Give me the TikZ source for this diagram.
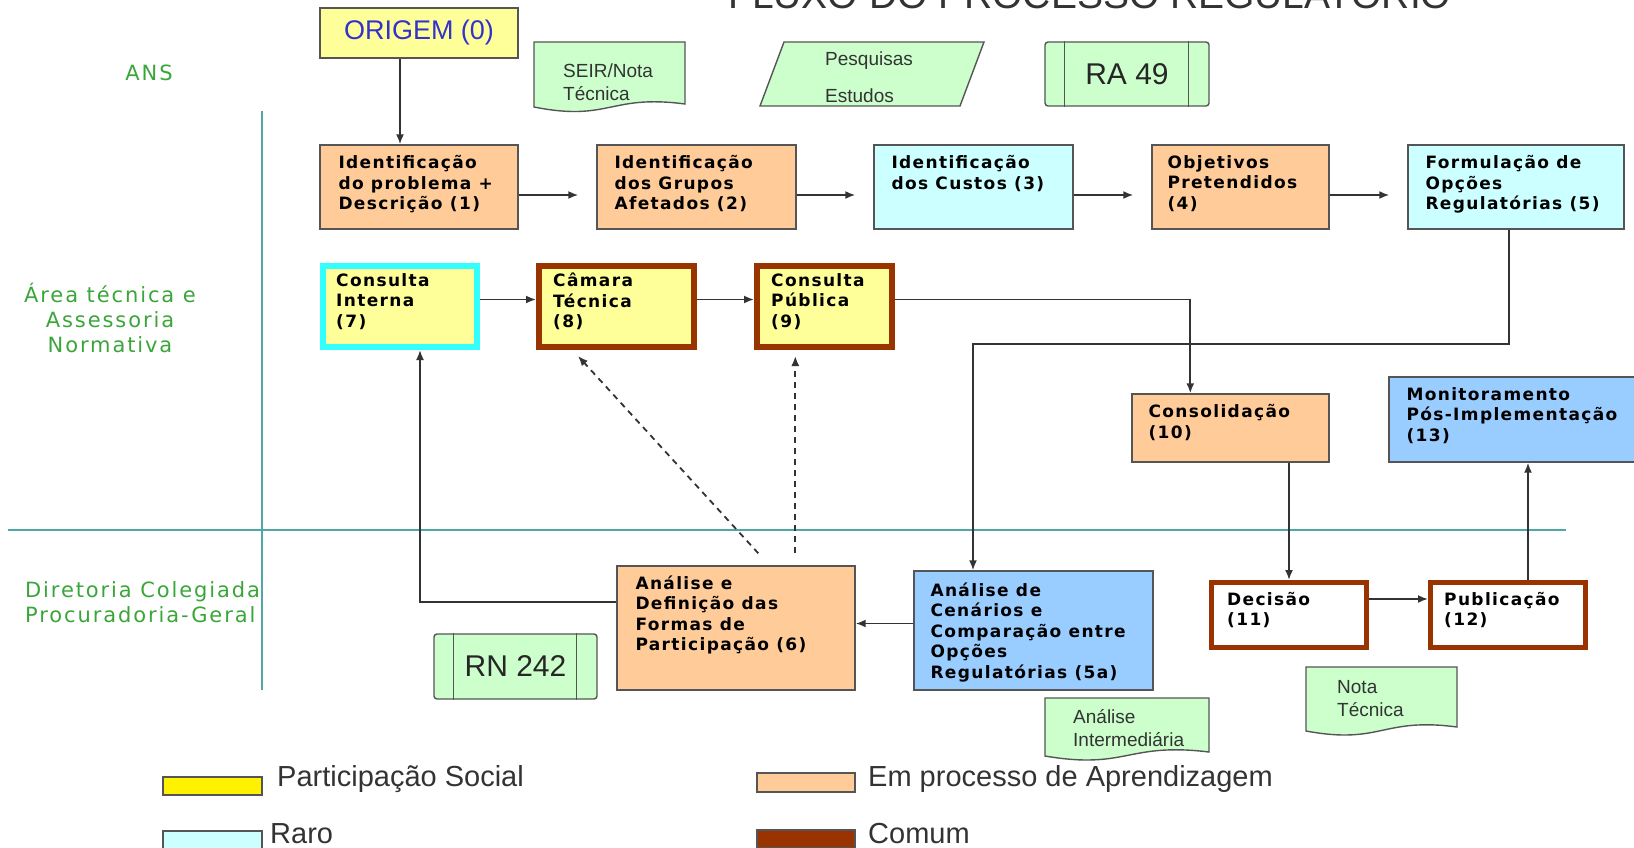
\documentclass[tikz,border=0pt]{standalone}
\usepackage{fontspec}
\setmainfont{Liberation Sans}
\newfontfamily\boxfont{DejaVu Sans}[LetterSpace=8]
\newfontfamily\lblfont{DejaVu Sans}[LetterSpace=9]
\usetikzlibrary{arrows.meta,calc}
\definecolor{orng}{HTML}{FFCC99}
\definecolor{lcyan}{HTML}{CCFFFF}
\definecolor{lblue}{HTML}{99CCFF}
\definecolor{lyel}{HTML}{FFFF99}
\definecolor{brownb}{HTML}{993300}
\definecolor{cyanb}{HTML}{33FFFF}
\definecolor{docgreen}{HTML}{CCFFCC}
\definecolor{tealline}{HTML}{4FA8A8}
\definecolor{lblgreen}{HTML}{3AA63A}
\definecolor{origblue}{HTML}{3333CC}
\definecolor{txtgray}{HTML}{333333}
\definecolor{bordergray}{HTML}{555555}
\begin{document}
\begin{tikzpicture}[x=1pt,y=-1pt,
  box/.style={draw=bordergray, line width=1.4pt, inner sep=0pt},
  thickbrown/.style={draw=brownb, line width=6pt, inner sep=0pt},
  btxt/.style={anchor=north west, inner sep=0pt, align=left, font=\boxfont\bfseries\fontsize{17}{20.5}\selectfont},
  conn/.style={draw=black!80, line width=1.8pt},
  arr/.style={conn, -{Latex[length=10pt,width=8pt]}},
  darr/.style={arr, dash pattern=on 6pt off 5pt},
  doc/.style={draw=bordergray, line width=1.4pt, fill=docgreen},
  doctxt/.style={anchor=west, inner sep=0pt, align=left, text=txtgray, font=\fontsize{19}{23}\selectfont},
  sepline/.style={draw=tealline, line width=2.5pt},
  lbl/.style={text=lblgreen, inner sep=0pt, font=\lblfont\fontsize{21}{25}\selectfont},
  legtxt/.style={anchor=west, inner sep=0pt, text=txtgray, font=\fontsize{29}{29}\selectfont},
  legbox/.style={draw=bordergray, line width=1.2pt, minimum width=99pt, minimum height=18pt, inner sep=0pt},
]
\useasboundingbox (0,0) rectangle (1634,848);

% title (cut off at the top, as in the reference)
\node[anchor=base west, inner sep=0pt, text=txtgray, font=\fontsize{39}{39}\selectfont] (title) at (728,9) {FLUXO DO PROCESSO REGULATÓRIO};

% separator lines
\draw[sepline] (262,111) -- (262,690);
\draw[sepline] (8,530) -- (1566,530);

% lane labels
\node[lbl] (ans) at (149,73) {ANS};
\node[lbl, align=center] (area) at (110,318) {Área técnica e\\Assessoria\\Normativa};
\node[lbl, align=left, anchor=west] (dir) at (25,602.5) {Diretoria Colegiada\\Procuradoria-Geral};

% top row of artefacts
\node[box, fill=lyel, minimum width=198pt, minimum height=50pt, text=origblue, font=\fontsize{27}{27}\selectfont] (orig) at (419,33) {ORIGEM (0)};
\draw[doc] (534,42) -- (685,42) -- (685,104) .. controls (609.5,94) and (609.5,122) .. (534,107) -- cycle;
\node[doctxt] (seir) at (563,82.5) {SEIR/Nota\\Técnica};
\draw[doc] (784,42) -- (984,42) -- (960,106) -- (760,106) -- cycle;
\node[doctxt] (pq1) at (825,61) {Pesquisas};
\node[doctxt] (pq2) at (825,96) {Estudos};
\node[box, fill=docgreen, rounded corners=3pt, minimum width=164pt, minimum height=64pt, text=black!85, font=\fontsize{30}{30}\selectfont] (ra) at (1127,74) {RA 49};
\draw[box] ($(ra.north west)+(20,0)$) -- ($(ra.south west)+(20,0)$);
\draw[box] ($(ra.north east)+(-21,0)$) -- ($(ra.south east)+(-21,0)$);

% row 1
\node[box, fill=orng, minimum width=198pt, minimum height=84pt] (b1) at (419,187) {};
\node[box, fill=orng, minimum width=199pt, minimum height=84pt] (b2) at (696.5,187) {};
\node[box, fill=lcyan, minimum width=199pt, minimum height=84pt] (b3) at (973.5,187) {};
\node[box, fill=orng, minimum width=177pt, minimum height=84pt] (b4) at (1240.5,187) {};
\node[box, fill=lcyan, minimum width=216pt, minimum height=84pt] (b5) at (1516,187) {};
\node[btxt] (t1) at ($(b1.north west)+(19,11)$) {Identificação\\do problema +\\Descrição (1)};
\node[btxt] (t2) at ($(b2.north west)+(18,11)$) {Identificação\\dos Grupos\\Afetados (2)};
\node[btxt] (t3) at ($(b3.north west)+(18,11)$) {Identificação\\dos Custos (3)};
\node[btxt] (t4) at ($(b4.north west)+(16,11)$) {Objetivos\\Pretendidos\\(4)};
\node[btxt] (t5) at ($(b5.north west)+(18,11)$) {Formulação de\\Opções\\Regulatórias (5)};

% row 2
\node[draw=cyanb, line width=6pt, inner sep=0pt, fill=lyel, minimum width=154pt, minimum height=81pt] (b7) at (400,306.5) {};
\node[thickbrown, fill=lyel, minimum width=155pt, minimum height=81pt] (b8) at (616.5,306.5) {};
\node[thickbrown, fill=lyel, minimum width=135pt, minimum height=81pt] (b9) at (824.5,306.5) {};
\node[btxt] (t7) at ($(b7.north west)+(16,10)$) {Consulta\\Interna\\(7)};
\node[btxt] (t8) at ($(b8.north west)+(17,10)$) {Câmara\\Técnica\\(8)};
\node[btxt] (t9) at ($(b9.north west)+(17,10)$) {Consulta\\Pública\\(9)};

\node[box, fill=orng, minimum width=197pt, minimum height=68pt] (b10) at (1230.5,428) {};
\node[btxt] (t10) at ($(b10.north west)+(17,11)$) {Consolidação\\(10)};
\node[box, fill=lblue, minimum width=251pt, minimum height=85pt] (b13) at (1514.5,419.5) {};
\node[btxt] (t13) at ($(b13.north west)+(18,11)$) {Monitoramento\\Pós-Implementação\\(13)};

% row 3
\node[box, fill=orng, minimum width=238pt, minimum height=124pt] (b6) at (736,628) {};
\node[btxt] (t6) at ($(b6.north west)+(19,10)$) {Análise e\\Definição das\\Formas de\\Participação (6)};
\node[box, fill=lblue, minimum width=239pt, minimum height=119pt] (b5a) at (1033.5,630.5) {};
\node[btxt] (t5a) at ($(b5a.north west)+(17,12)$) {Análise de\\Cenários e\\Comparação entre\\Opções\\Regulatórias (5a)};
\node[thickbrown, line width=5pt, fill=white, minimum width=155pt, minimum height=65pt] (dec) at (1289,615) {};
\node[btxt] (tdec) at ($(dec.north west)+(18,12)$) {Decisão\\(11)};
\node[thickbrown, line width=5pt, fill=white, minimum width=155pt, minimum height=65pt] (pub) at (1508,615) {};
\node[btxt] (tpub) at ($(pub.north west)+(16,12)$) {Publicação\\(12)};

\node[box, fill=docgreen, rounded corners=3pt, minimum width=163pt, minimum height=65pt, text=black!85, font=\fontsize{30}{30}\selectfont] (rn) at (515.5,666.5) {RN 242};
\draw[box] ($(rn.north west)+(20,0)$) -- ($(rn.south west)+(20,0)$);
\draw[box] ($(rn.north east)+(-21,0)$) -- ($(rn.south east)+(-21,0)$);

\draw[doc] (1045,698) -- (1209,698) -- (1209,752) .. controls (1127,742) and (1127,770) .. (1045,756) -- cycle;
\node[doctxt] (ai) at (1073,728) {Análise\\Intermediária};
\draw[doc] (1306,667) -- (1457,667) -- (1457,727) .. controls (1381.5,717) and (1381.5,745) .. (1306,731) -- cycle;
\node[doctxt] (nt) at (1337,698.5) {Nota\\Técnica};

% connectors
\draw[arr] ($(orig.south)+(-19,0)$) -- ($(b1.north)+(-19,0)$);
\draw[arr, shorten >=18pt] ($(b1.east)+(0,8)$) coordinate (r1) -- (r1 -| b2.west);
\draw[arr, shorten >=18pt] ($(b2.east)+(0,8)$) coordinate (r2) -- (r2 -| b3.west);
\draw[arr, shorten >=18pt] ($(b3.east)+(0,8)$) coordinate (r3) -- (r3 -| b4.west);
\draw[arr, shorten >=18pt] ($(b4.east)+(0,8)$) coordinate (r4) -- (r4 -| b5.west);
\draw[arr] ($(b7.east)+(0,-7)$) coordinate (r7) -- (r7 -| b8.west);
\draw[arr] ($(b8.east)+(0,-7)$) coordinate (r8) -- (r8 -| b9.west);
\draw[arr] ($(b9.east)+(0,-7)$) -| ($(b10.north west)+(59,0)$);
\coordinate (k1) at (973,344);
\draw[arr] ($(b5.south)+(-7,0)$) |- (k1) -- (k1 |- b5a.north);
\draw[arr] ($(b5a.west)+(0,-7)$) coordinate (a5) -- (a5 -| b6.east);
\draw[arr] ($(b6.west)+(0,-26)$) -| ($(b7.south)+(20,0)$);
\draw[darr] ($(b6.north west)+(142,-12)$) -- ($(b8.south west)+(42,6)$);
\draw[darr] ($(b6.north west)+(179,-12)$) coordinate (d2) -- ($(d2 |- b9.south)+(0,6)$);
\draw[arr] (b10.south -| dec.north) -- (dec.north);
\draw[arr] ($(dec.east)+(0,-16)$) coordinate (a6) -- (a6 -| pub.west);
\draw[arr] ($(pub.north)+(20,0)$) coordinate (a7) -- (a7 |- b13.south);

% legend
\node[legbox, fill=yellow] (lg1) at (212.5,786) {};
\node[legtxt] (lt1) at (277,779) {Participação Social};
\node[legbox, fill=lcyan] (lg2) at (212.5,840) {};
\node[legtxt] (lt2) at (270,834) {Raro};
\node[legbox, fill=orng, minimum width=98pt, minimum height=19pt] (lg3) at (806,782.5) {};
\node[legtxt] (lt3) at (868,779) {Em processo de Aprendizagem};
\node[legbox, fill=brownb, minimum width=98pt] (lg4) at (806,839) {};
\node[legtxt] (lt4) at (868,834) {Comum};
\end{tikzpicture}
\end{document}
